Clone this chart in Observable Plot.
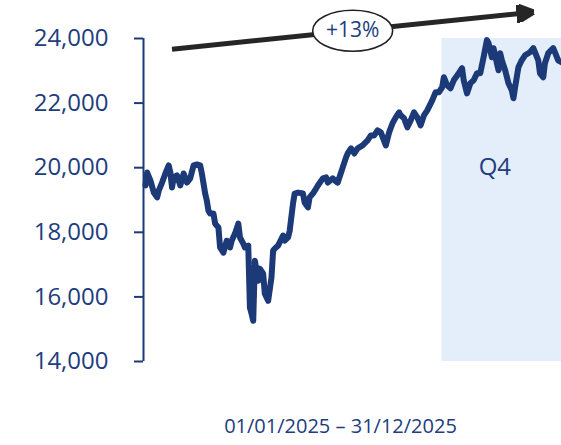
<!DOCTYPE html>
<html>
<head>
<meta charset="utf-8">
<script src="https://cdn.jsdelivr.net/npm/d3@7"></script>
<script src="https://cdn.jsdelivr.net/npm/@observablehq/plot@0.6"></script>
<style>
  html, body { margin: 0; padding: 0; background: #fff; }
  #chart svg { display: block; }
</style>
</head>
<body>
<div id="chart"></div>
<script>
// Trading-day index (0 = 01/01/2025, 251 = 31/12/2025)
const days = [0,1,3,5,7,8,10,12,14,15,16,17,19,21,23,25,27,29,31,33,34,36,37,38,39,41,42,44,45,47,49,51,52,54,56,57,59,60,62,63,64,65,66,68,69,71,72,74,76,77,78,80,83,84,86,87,89,90,92,95,96,98,99,101,103,104,107,109,110,113,115,116,119,121,122,124,126,128,131,134,136,138,140,142,145,147,149,151,153,154,156,158,160,162,164,166,168,170,173,175,177,179,180,182,184,186,189,191,192,194,195,196,198,200,202,204,206,207,209,210,212,213,214,215,217,219,221,222,223,225,227,229,232,234,237,238,240,241,243,246,247,249,251];
const values = [19450,19850,19600,19230,19080,19290,19540,19820,20070,19850,19390,19700,19760,19450,19820,19540,19670,20070,20100,20070,19820,19200,18980,18670,18580,18580,18270,18150,17530,17370,17740,17530,17740,17960,18270,17840,17650,17530,17590,15665,15480,15260,17120,16500,16875,16720,16100,15880,16595,17430,17495,17590,17900,17740,17840,18050,18890,19200,19230,19200,18920,18770,19080,19200,19360,19450,19670,19700,19540,19670,19570,19540,20010,20320,20440,20600,20440,20600,20690,20845,21000,21000,21155,21095,20690,21095,21370,21560,21715,21620,21530,21250,21465,21715,21560,21310,21620,21775,22085,22335,22335,22490,22800,22550,22460,22705,22925,23080,22705,22300,22460,22615,22705,22925,22925,23420,23950,23855,23420,23700,23235,23015,23545,23325,23015,22615,22395,22150,22490,23110,23325,23480,23575,23700,23325,22925,22800,23235,23545,23700,23575,23325,23265];
const q4Start = 179, q4End = 251;
const q4Label = "Q4";
const yTicks = [14000, 16000, 18000, 20000, 22000, 24000];
const changeLabel = "+13%";
const caption = "01/01/2025 \u2013 31/12/2025";

const series = days.map((d, i) => ({day: d, value: values[i]}));

const navy = "#1c3a78";
const textNavy = "#213d7d";

function headMarker(color) {
  const ns = "http://www.w3.org/2000/svg";
  const m = document.createElementNS(ns, "marker");
  m.setAttribute("viewBox", "0 -10 20 20");
  m.setAttribute("markerUnits", "userSpaceOnUse");
  m.setAttribute("markerWidth", "18");
  m.setAttribute("markerHeight", "18");
  m.setAttribute("refX", "18");
  m.setAttribute("refY", "0");
  m.setAttribute("orient", "auto");
  const p = document.createElementNS(ns, "path");
  p.setAttribute("d", "M0,-10L20,0L0,10Z");
  p.setAttribute("fill", color);
  m.appendChild(p);
  return m;
}

const ellipseSymbol = {
  draw(ctx) {
    const rx = 40, ry = 20.5, k = 0.5523;
    ctx.moveTo(rx, 0);
    ctx.bezierCurveTo(rx, ry * k, rx * k, ry, 0, ry);
    ctx.bezierCurveTo(-rx * k, ry, -rx, ry * k, -rx, 0);
    ctx.bezierCurveTo(-rx, -ry * k, -rx * k, -ry, 0, -ry);
    ctx.bezierCurveTo(rx * k, -ry, rx, -ry * k, rx, 0);
    ctx.closePath();
  }
};

const trendArrow = [{x1: 16, y1: 23670, x2: 233.5, y2: 24816}];
const badge = [{x: 125, y: 24242, label: changeLabel}];

const chart = Plot.plot({
  width: 561,
  height: 445,
  marginLeft: 143,
  marginRight: 0,
  marginTop: 38,
  marginBottom: 84,
  x: {domain: [0, 251], insetLeft: 2, axis: null},
  y: {domain: [14000, 24000], axis: null},
  style: {fontFamily: "'Open Sans', sans-serif", background: "#fff", color: textNavy},
  marks: [
    Plot.rect([{x1: q4Start, x2: q4End}], {x1: "x1", x2: "x2", y1: 14000, y2: 24000, fill: "#e4eefa"}),
    Plot.text([q4Label], {x: (q4Start + q4End) / 2, y: 20000, text: d => d, fontSize: 24, fill: textNavy, dx: -7}),
    Plot.axisY({ticks: yTicks, tickFormat: d3.format(","), tickSize: 9, tickPadding: 26, fontSize: 24, stroke: navy, strokeWidth: 2, fill: textNavy, label: null}),
    Plot.ruleX([0], {y1: 14000, y2: 24000, dx: -2, stroke: navy, strokeWidth: 2}),
    Plot.line(series, {x: "day", y: "value", stroke: navy, strokeWidth: 6, strokeLinejoin: "round", strokeLinecap: "round"}),
    Plot.link(trendArrow, {x1: "x1", y1: "y1", x2: "x2", y2: "y2", stroke: "#262626", strokeWidth: 5, markerEnd: headMarker}),
    Plot.dot(badge, {x: "x", y: "y", symbol: ellipseSymbol, fill: "#fff", stroke: "#222", strokeWidth: 1.6}),
    Plot.text(badge, {x: "x", y: "y", text: "label", fontSize: 21, fill: textNavy}),
    Plot.text([caption], {frameAnchor: "bottom", text: d => d, dy: 71, dx: -12, fontSize: 20, fill: textNavy})
  ]
});
document.getElementById("chart").appendChild(chart);
</script>
</body>
</html>
